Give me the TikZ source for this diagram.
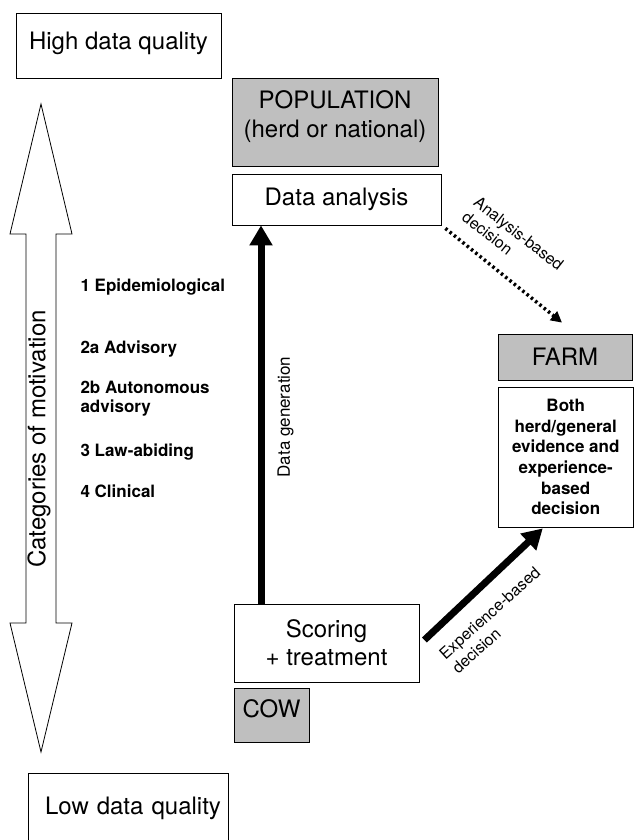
\documentclass[tikz,border=0pt]{standalone}
\usepackage{fontspec}
\setmainfont{TeX Gyre Heros}
\usetikzlibrary{arrows.meta}

\begin{document}
\begin{tikzpicture}[x=1pt, y=-1pt,
		box/.style={draw, line width=0.8pt, inner sep=0pt, align=center, font=\fontsize{24}{29}\selectfont},
		greybox/.style={box, fill=gray!50},
		category/.style={anchor=base west, align=left, font=\bfseries\fontsize{17}{19}\selectfont},
		side/.style={align=left, font=\fontsize{16}{19}\selectfont},
		bigarrow/.style={line width=7pt, -{Triangle[width=22pt, length=20pt]}},
		dotarrow/.style={line width=3.5pt, dash pattern=on 2.5pt off 3pt, -{Triangle[width=11pt, length=11pt]}}]
	\useasboundingbox (0, 0) rectangle (634, 840);

	% quality scale
	\node[box, minimum width=205pt, minimum height=65pt, text depth=10pt] (high) at (118.5, 45.5) {High data quality};
	\node[box, minimum width=200pt, minimum height=87pt, text depth=21pt, text width=186pt, inner xsep=7pt, align=right] (low) at (128, 816.5) {Low data quality};
	\draw[line width=0.8pt] (41, 104) -- (72, 234) -- (56, 234) -- (56, 623) -- (72, 623) -- (41, 752)
		-- (10, 623) -- (26, 623) -- (26, 234) -- (10, 234) -- cycle;
	\node[rotate=90, font=\fontsize{24}{29}\selectfont] (motiv) at (39, 439) {Categories of motivation};

	\node[category] (epi) at (77, 291) {1 Epidemiological};
	\node[category] (adv) at (77, 353) {2a Advisory};
	\node[category, anchor=west] (auto) at (77, 399) {2b Autonomous\\advisory};
	\node[category] (law) at (77, 456) {3 Law-abiding};
	\node[category] (clin) at (77, 497) {4 Clinical};

	% levels
	\node[greybox, minimum width=206pt, minimum height=88pt, text depth=16pt] (pop) at (335, 122) {POPULATION\\(herd or national)};
	\node[box, minimum width=209pt, minimum height=51pt] (analysis) at (336.5, 199.5) {Data analysis};
	\node[greybox, minimum width=134pt, minimum height=46pt] (farm) at (565, 357) {FARM};
	\node[box, minimum width=135.5pt, minimum height=140pt, font=\bfseries\fontsize{17}{20.6}\selectfont] (both) at (565.75, 457) {Both\\herd/general\\evidence and\\experience-\\based\\decision};
	\node[box, minimum width=185pt, minimum height=78pt, font=\fontsize{24}{28}\selectfont] (scoring) at (326.5, 643) {Scoring\\+ treatment};
	\node[greybox, minimum width=75pt, minimum height=54pt, text depth=13pt] (cow) at (271.5, 715) {COW};

	% decisions
	\coordinate (genx) at (261, 0);
	\draw[bigarrow] (scoring.north -| genx) -- (analysis.south -| genx);
	\node[rotate=90, font=\fontsize{17}{20}\selectfont] (gen) at (285.5, 417) {Data generation};

	\draw[dotarrow] ([shift={(4,3)}]analysis.south east) -- ([shift={(-3,-11)}]farm.north);
	\node[side, rotate=-38] (anlabel) at (513, 241) {Analysis-based\\decision};

	\draw[bigarrow] ([shift={(5,-3)}]scoring.east) -- ([shift={(-23,1)}]both.south);
	\node[side, rotate=42] (exlabel) at (496, 620) {Experience-based\\decision};
\end{tikzpicture}
\end{document}
